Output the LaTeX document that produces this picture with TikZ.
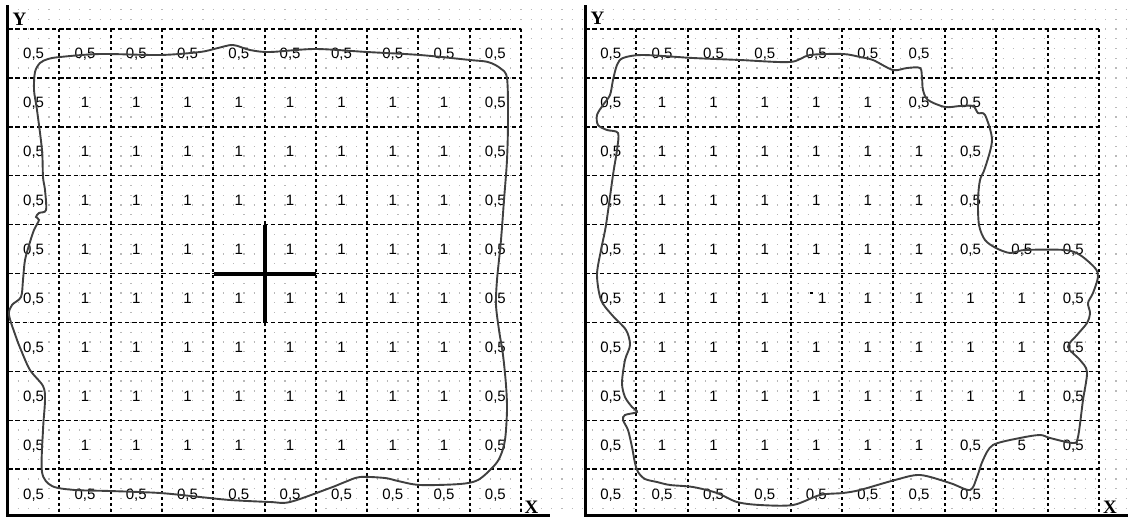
\documentclass[tikz,border=0pt]{standalone}
\usepackage{fontspec}
\setmainfont{Liberation Sans}
\newfontfamily\axisfont{Liberation Serif}
\usepackage{tikz}
\newcommand\cellvh{0,5}
\newcommand\cellvo{1}
\newcommand\cellvf{5}
\newcommand\cellvp{\makebox[12pt][l]{\hspace{3.5pt}\raisebox{9pt}{\rule{3pt}{2pt}}}1}

\begin{document}
\begin{tikzpicture}[
    x=1pt,
    y=-1pt,
    dots/.style={gray!55, line width=1.3pt, dash pattern=on 1.3pt off 8.96pt},
    hgrid/.style={line width=1.4pt, dash pattern=on 4.5pt off 2.8pt},
    vgrid/.style={line width=2pt, dash pattern=on 3pt off 3pt},
    axisline/.style={line width=3pt},
    outline/.style={black!75, line width=1.9pt},
    cross/.style={line width=4pt},
    cellnum/.style={font=\fontsize{15}{15}\selectfont, anchor=base, inner sep=0pt},
    axislabel/.style={font=\axisfont\bfseries\fontsize{19}{19}\selectfont, inner sep=0pt}
]
  \useasboundingbox (0,0) rectangle (1128,517);
  \foreach \k in {-2,...,50}
    \draw[dots] (-2.91, {29+9.78*\k}) -- (1128, {29+9.78*\k});

  \foreach \i in {1,...,10}
    \draw[vgrid] ({8+51.3*\i},29) -- ({8+51.3*\i},515);
  \foreach \j in {0,...,9}
    \draw[hgrid] (8,{29+48.9*\j}) -- (521,{29+48.9*\j});
  \foreach \i in {1,...,10}
    \draw[vgrid] ({585+51.4*\i},29) -- ({585+51.4*\i},515);
  \foreach \j in {0,...,9}
    \draw[hgrid] (585,{29+48.9*\j}) -- (1099,{29+48.9*\j});

  \draw[axisline] (7,5) -- (7,517);
  \draw[axisline] (7,515) -- (550,515);
  \draw[axisline] (585,5) -- (585,517);
  \draw[axisline] (585,515) -- (1128,515);

  \node[axislabel] (ly) at (19.5,19) {Y};
  \node[axislabel] (lx) at (531.5,507) {X};
  \node[axislabel] (ry) at (597.5,18.5) {Y};
  \node[axislabel] (rx) at (1110,507) {X};

  \foreach \row [count=\r] in {
      {h,h,h,h,h,h,h,h,h,h},
      {h,o,o,o,o,o,o,o,o,h},
      {h,o,o,o,o,o,o,o,o,h},
      {h,o,o,o,o,o,o,o,o,h},
      {h,o,o,o,o,o,o,o,o,h},
      {h,o,o,o,o,o,o,o,o,h},
      {h,o,o,o,o,o,o,o,o,h},
      {h,o,o,o,o,o,o,o,o,h},
      {h,o,o,o,o,o,o,o,o,h},
      {h,h,h,h,h,h,h,h,h,h}}
    \foreach \v [count=\c] in \row {
      \if\v e\else
        \node[cellnum] (l-\r-\c) at ({8+51.3*(\c-0.5)}, {29+48.9*(\r-0.5)+5.5}) {\csname cellv\v\endcsname};
      \fi
    }

  \foreach \row [count=\r] in {
      {h,h,h,h,h,h,h,e,e,e},
      {h,o,o,o,o,o,h,h,e,e},
      {h,o,o,o,o,o,o,h,e,e},
      {h,o,o,o,o,o,o,h,e,e},
      {h,o,o,o,o,o,o,h,h,h},
      {h,o,o,o,p,o,o,o,o,h},
      {h,o,o,o,o,o,o,o,o,h},
      {h,o,o,o,o,o,o,o,o,h},
      {h,o,o,o,o,o,o,h,f,h},
      {h,h,h,h,h,h,h,h,e,e}}
    \foreach \v [count=\c] in \row {
      \if\v e\else
        \node[cellnum] (r-\r-\c) at ({585+51.4*(\c-0.5)}, {29+48.9*(\r-0.5)+5.5}) {\csname cellv\v\endcsname};
      \fi
    }

  \draw[cross] (264.5,225) -- (264.5,323);
  \draw[cross] (213.5,273.5) -- (316,273.5);

  \draw[outline] plot[smooth cycle, tension=0.5] coordinates {
    (40,63) (48,59) (60,57) (100,54) (160,55) (200,52) (218,48) (233,45) (250,50) (270,52)
    (315,49) (367,52) (420,55) (470,60) (488,62) (500,68) (507,78) (508,120) (507,160)
    (504,200) (501,240) (497,280) (496,305) (499,330) (503,355) (506,385) (507,410)
    (505,440) (500,457) (493,467) (478,480) (460,484) (420,485) (398,481) (385,478)
    (360,477) (345,482) (330,488) (290,502) (270,502) (230,500) (200,497) (160,493)
    (110,491) (75,490) (52,486) (42,472) (43,430) (45,400) (43,386) (30,370) (21,350)
    (16,337) (9,315) (12,305) (21,297) (23,280) (25,260) (30,242) (34,230) (39,220)
    (36,217) (39,213) (46,210) (45,190) (43,177) (42,150) (37,110) (34,90) (35,72)};

  \draw[outline] plot[smooth cycle, tension=0.5] coordinates {
    (617,65) (623,58) (643,55) (693,58) (740,60) (790,62) (810,55) (843,54) (860,57)
    (873,60) (893,70) (907,68) (920,68) (922,78) (923,90) (928,100) (945,107) (960,106)
    (973,106) (978,113) (985,115) (992,140) (985,168) (980,180) (978,200) (979,225)
    (985,240) (996,248) (1010,253) (1025,250) (1065,250) (1080,255) (1095,268) (1098,277)
    (1093,293) (1088,303) (1090,313) (1087,323) (1077,335) (1068,347) (1080,360)
    (1087,372) (1083,400) (1078,437) (1073,443) (1050,438) (1040,435) (1020,438)
    (993,445) (983,460) (977,477) (970,490) (950,483) (920,475) (895,480) (860,490)
    (843,493) (820,495) (793,505) (760,505) (737,502) (717,493) (693,487) (670,485)
    (657,482) (645,479) (638,472) (635,463) (632,447) (628,430) (623,420) (625,415)
    (637,412) (632,407) (625,397) (622,383) (625,360) (630,345) (626,330) (612,315)
    (601,300) (597,275) (601,250) (606,225) (613,175) (617,150) (618,133) (607,130)
    (598,125) (597,115) (603,105) (610,95) (613,80)};
\end{tikzpicture}
\end{document}
